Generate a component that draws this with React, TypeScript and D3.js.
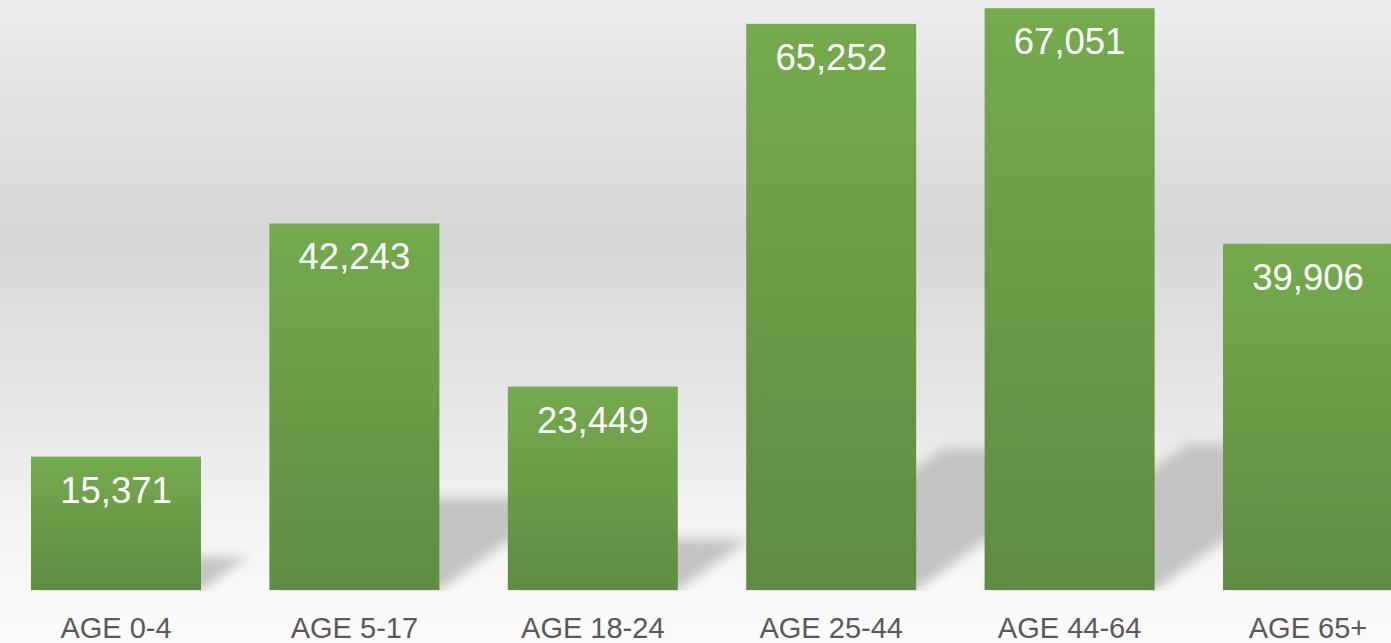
import React, { useEffect, useRef } from 'react';
import * as d3 from 'd3';

const categories = ['AGE 0-4', 'AGE 5-17', 'AGE 18-24', 'AGE 25-44', 'AGE 44-64', 'AGE 65+'];
const values = [15371, 42243, 23449, 65252, 67051, 39906];

const W = 1391;
const H = 643;

export default function App() {
  const svgRef = useRef<SVGSVGElement>(null);

  useEffect(() => {
    const svg = d3.select(svgRef.current);
    svg.selectAll('*').remove();

    const base = 590;

    const x = d3.scaleBand<string>()
      .domain(categories)
      .range([31, 1393])
      .paddingInner(0.287)
      .paddingOuter(0);

    const y = d3.scaleLinear()
      .domain([0, 68000])
      .range([base, 0]);

    const defs = svg.append('defs');

    // background: light grey, darker band in the middle, fading to white at the floor
    const bg = defs.append('linearGradient')
      .attr('id', 'bg').attr('x1', 0).attr('y1', 0).attr('x2', 0).attr('y2', 1);
    [
      [0, '#eeeeee'],
      [0.16, '#e2e2e2'],
      [0.37, '#d7d7d7'],
      [0.62, '#e6e6e6'],
      [0.8, '#f2f2f2'],
      [0.92, '#f9f9f9'],
      [1, '#fbfbfb'],
    ].forEach(([o, c]) => bg.append('stop').attr('offset', o as number).attr('stop-color', c as string));

    const barGrad = defs.append('linearGradient')
      .attr('id', 'bar').attr('x1', 0).attr('y1', 0).attr('x2', 0).attr('y2', 1);
    barGrad.append('stop').attr('offset', 0).attr('stop-color', '#75aa4e');
    barGrad.append('stop').attr('offset', 1).attr('stop-color', '#5f8c40');

    const blur = defs.append('filter')
      .attr('id', 'blur')
      .attr('filterUnits', 'userSpaceOnUse')
      .attr('x', 0).attr('y', 0).attr('width', W).attr('height', H);
    blur.append('feGaussianBlur').attr('stdDeviation', 6);

    defs.append('clipPath').attr('id', 'floor')
      .append('rect').attr('x', 0).attr('y', 0).attr('width', W).attr('height', base + 1);

    svg.append('rect')
      .attr('width', W).attr('height', H)
      .attr('fill', 'url(#bg)');

    // shadows cast back and to the right
    svg.append('g')
      .attr('clip-path', 'url(#floor)')
      .append('g')
      .attr('filter', 'url(#blur)')
      .selectAll('polygon')
      .data(values)
      .enter()
      .append('polygon')
      .attr('points', (d, i) => {
        const x0 = x(categories[i])!;
        const x1 = x0 + x.bandwidth();
        const h = base - y(d);
        const dy = h * 0.25;
        const dx = dy / 0.72;
        return [[x0, base], [x1, base], [x1 + dx, base - dy], [x0 + dx, base - dy]]
          .map(p => p.join(',')).join(' ');
      })
      .attr('fill', '#c3c3c3');

    svg.selectAll('.bar')
      .data(values)
      .enter()
      .append('rect')
      .attr('class', 'bar')
      .attr('x', (d, i) => x(categories[i])!)
      .attr('y', d => y(d))
      .attr('width', x.bandwidth())
      .attr('height', d => base - y(d))
      .attr('fill', 'url(#bar)');

    svg.selectAll('.val')
      .data(values)
      .enter()
      .append('text')
      .attr('class', 'val')
      .attr('x', (d, i) => x(categories[i])! + x.bandwidth() / 2)
      .attr('y', d => y(d) + 46)
      .attr('text-anchor', 'middle')
      .style('font-family', '"Liberation Sans", Arial, sans-serif')
      .style('font-size', '36.5px')
      .style('fill', '#ffffff')
      .text(d => d3.format(',')(d));

    svg.selectAll('.cat')
      .data(categories)
      .enter()
      .append('text')
      .attr('class', 'cat')
      .attr('x', d => x(d)! + x.bandwidth() / 2)
      .attr('y', 638)
      .attr('text-anchor', 'middle')
      .style('font-family', '"Liberation Sans", Arial, sans-serif')
      .style('font-size', '29px')
      .style('fill', '#595959')
      .text(d => d);
  }, []);

  return (
    <svg
      ref={svgRef}
      width={W}
      height={H}
      style={{ position: 'absolute', left: 0, top: 0, display: 'block' }}
    />
  );
}
